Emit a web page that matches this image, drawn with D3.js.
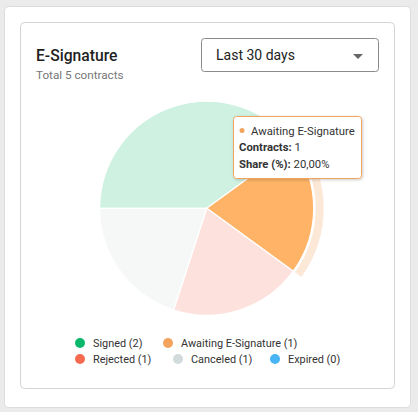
<!DOCTYPE html>
<html><head><meta charset="utf-8">
<script src="https://cdn.jsdelivr.net/npm/d3@7"></script>
<style>
html,body{margin:0;padding:0;background:#ebebeb;}
svg{display:block;font-family:Roboto,"Noto Sans",sans-serif;}
</style></head>
<body>
<script>
const categories = ["Signed","Awaiting E-Signature","Rejected","Canceled","Expired"];
const counts = [2,1,1,1,0];
const colors = ["#0ab86c","#f2a45e","#f56a4e","#d3dadb","#49b4f4"];
const hoverIndex = 1;
const title = "E-Signature";
const subtitle = "Total 5 contracts";
const rangeLabel = "Last 30 days";

const W=418,H=412;
const svg=d3.select("body").append("svg").attr("width",W).attr("height",H);
const defs=svg.append("defs");
const f=defs.append("filter").attr("id","sh").attr("x","-20%").attr("y","-20%").attr("width","140%").attr("height","160%");
f.append("feDropShadow").attr("dx",1).attr("dy",1).attr("stdDeviation",1.5).attr("flood-color","#000").attr("flood-opacity",0.2);

svg.append("rect").attr("x",4.5).attr("y",6.5).attr("width",406).attr("height",401).attr("rx",4).attr("fill","#fff").attr("stroke","#dcdcdc");
svg.append("rect").attr("x",20.5).attr("y",22.5).attr("width",374).attr("height",366).attr("rx",4).attr("fill","#fff").attr("stroke","#d4d4d4");

svg.append("text").attr("x",36).attr("y",61).attr("font-size",15.7).attr("font-weight",500).attr("fill","#1f1f1f").text(title);
svg.append("text").attr("x",36).attr("y",79).attr("font-size",11.7).attr("fill","#777").text(subtitle);

svg.append("rect").attr("x",201.5).attr("y",38.5).attr("width",177).attr("height",33).attr("rx",3).attr("fill","#fff").attr("stroke","#8a8a8a");
svg.append("text").attr("x",216).attr("y",60).attr("font-size",14).attr("fill","#222").text(rangeLabel);
svg.append("path").attr("d","M353,54L363,54L358,59Z").attr("fill","#666");

// pie
const cx=206.7, cy=208.3, R=107;
const total=d3.sum(counts);
const pie=d3.pie().sort(null).startAngle(-Math.PI/2).endAngle(1.5*Math.PI);
const arcs=pie(counts);
const arc=d3.arc().innerRadius(0).outerRadius(R);
const halo=d3.arc().innerRadius(R+2).outerRadius(R+10);
const g=svg.append("g").attr("transform",`translate(${cx},${cy})`);
g.selectAll("path.halo").data(arcs.filter(a=>a.index===hoverIndex)).join("path")
 .attr("d",halo).attr("fill",d=>colors[d.index]).attr("opacity",0.25);
g.selectAll("path.s").data(arcs.filter(a=>a.value>0)).join("path")
 .attr("d",arc)
 .attr("fill",d=>d.index===hoverIndex? d3.color(colors[d.index]).brighter(0.25):colors[d.index])
 .attr("fill-opacity",d=>d.index===hoverIndex?1:0.2)
 .attr("stroke","#fff").attr("stroke-width",1.2).attr("stroke-linejoin","round");

// legend
const legPos=[[80,343],[168,343],[80,359],[178,359],[275,359]];
const lg=svg.append("g");
categories.forEach((c,i)=>{
  const [x,y]=legPos[i];
  lg.append("circle").attr("cx",x).attr("cy",y).attr("r",5).attr("fill",colors[i]);
  lg.append("text").attr("x",x+13).attr("y",y+3.8).attr("font-size",10.9).attr("fill","#333").text(`${c} (${counts[i]})`);
});

// tooltip
const tg=svg.append("g");
tg.append("rect").attr("x",233.5).attr("y",116.5).attr("width",128).attr("height",62).attr("rx",3)
 .attr("fill","#fff").attr("stroke",colors[hoverIndex]).attr("filter","url(#sh)");
tg.append("circle").attr("cx",242).attr("cy",130.5).attr("r",2.5).attr("fill",colors[hoverIndex]);
tg.append("text").attr("x",251).attr("y",134.5).attr("font-size",11.3).attr("fill","#333").text(categories[hoverIndex]);
const t2=tg.append("text").attr("x",239).attr("y",151).attr("font-size",11.3).attr("fill","#333");
t2.append("tspan").attr("font-weight",700).text("Contracts: ");
t2.append("tspan").text(counts[hoverIndex]);
const t3=tg.append("text").attr("x",239).attr("y",168).attr("font-size",11.3).attr("fill","#333");
t3.append("tspan").attr("font-weight",700).text("Share (%): ");
t3.append("tspan").text((counts[hoverIndex]/total*100).toFixed(2).replace(".",",")+"%");
</script>
</body></html>
